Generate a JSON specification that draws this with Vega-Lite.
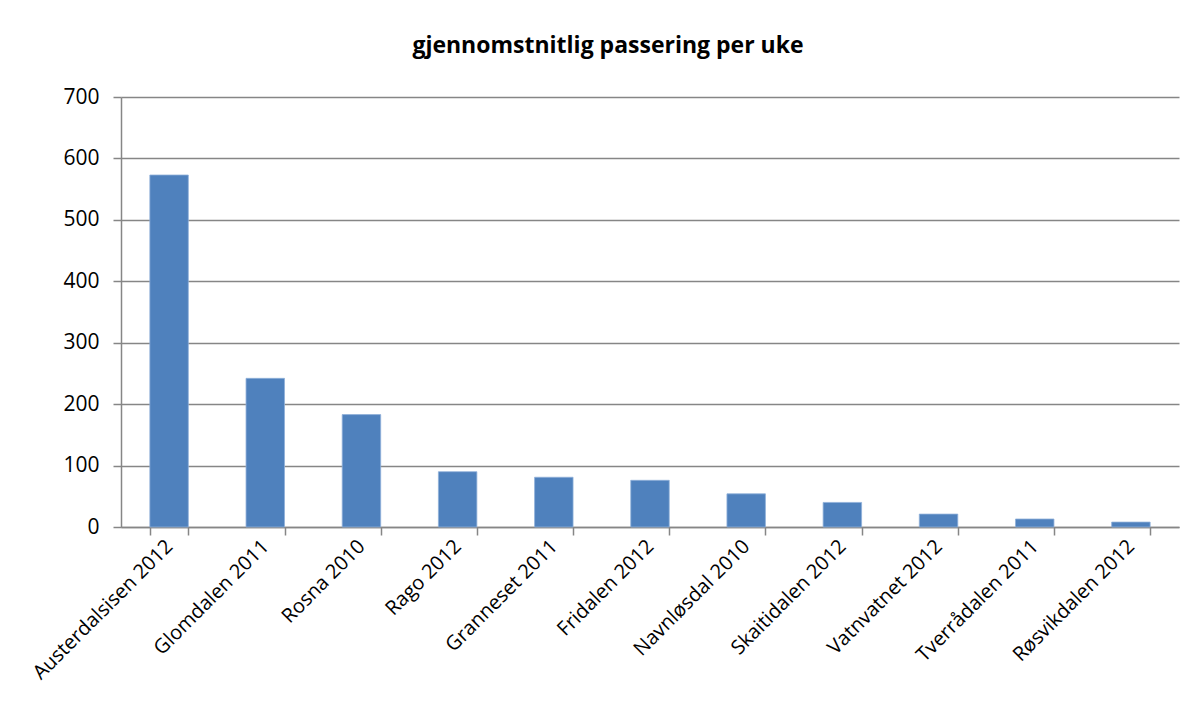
{
  "$schema": "https://vega.github.io/schema/vega-lite/v6.json",
  "autosize": "none",
  "width": 1058,
  "height": 430,
  "padding": {"left": 121, "top": 97, "right": 21, "bottom": 182},
  "background": "white",
  "title": {
    "text": "gjennomstnitlig passering per uke",
    "font": "Open Sans",
    "fontSize": 23,
    "fontWeight": "bold",
    "color": "#000000",
    "anchor": "middle",
    "dx": -42,
    "offset": 28
  },
  "data": {
    "values": [
      {"sted": "Austerdalsisen 2012", "verdi": 573},
      {"sted": "Glomdalen 2011", "verdi": 242},
      {"sted": "Rosna 2010", "verdi": 183},
      {"sted": "Rago 2012", "verdi": 90},
      {"sted": "Granneset 2011", "verdi": 81},
      {"sted": "Fridalen 2012", "verdi": 76},
      {"sted": "Navnløsdal 2010", "verdi": 54},
      {"sted": "Skaitidalen 2012", "verdi": 40},
      {"sted": "Vatnvatnet 2012", "verdi": 21},
      {"sted": "Tverrådalen 2011", "verdi": 13},
      {"sted": "Røsvikdalen 2012", "verdi": 8}
    ]
  },
  "config": {
    "view": {"stroke": null},
    "axis": {
      "labelFont": "Open Sans",
      "labelFontSize": 20,
      "labelColor": "#000000",
      "labelLimit": 0,
      "domainColor": "#868686",
      "tickColor": "#868686",
      "gridColor": "#868686",
      "domainWidth": 1.5,
      "tickWidth": 1.5,
      "gridWidth": 1.5
    }
  },
  "mark": {"type": "bar", "color": "#4F81BD", "stroke": "#8fb0d9", "strokeWidth": 0.8},
  "encoding": {
    "x": {
      "field": "sted",
      "type": "nominal",
      "sort": null,
      "scale": {"paddingInner": 0.6, "paddingOuter": 0.3},
      "axis": {
        "title": null,
        "labelAngle": -45,
        "labelAlign": "right",
        "labelBaseline": "middle",
        "labelPadding": 8,
        "labelDx": -14,
        "labelOverlap": false,
        "tickSize": 8,
        "tickBand": "extent",
        "grid": false
      }
    },
    "y": {
      "field": "verdi",
      "type": "quantitative",
      "scale": {"domain": [0, 700]},
      "axis": {
        "title": null,
        "values": [0, 100, 200, 300, 400, 500, 600, 700],
        "labelFontSize": 21,
        "tickSize": 8,
        "labelPadding": 14,
        "grid": true
      }
    }
  }
}
